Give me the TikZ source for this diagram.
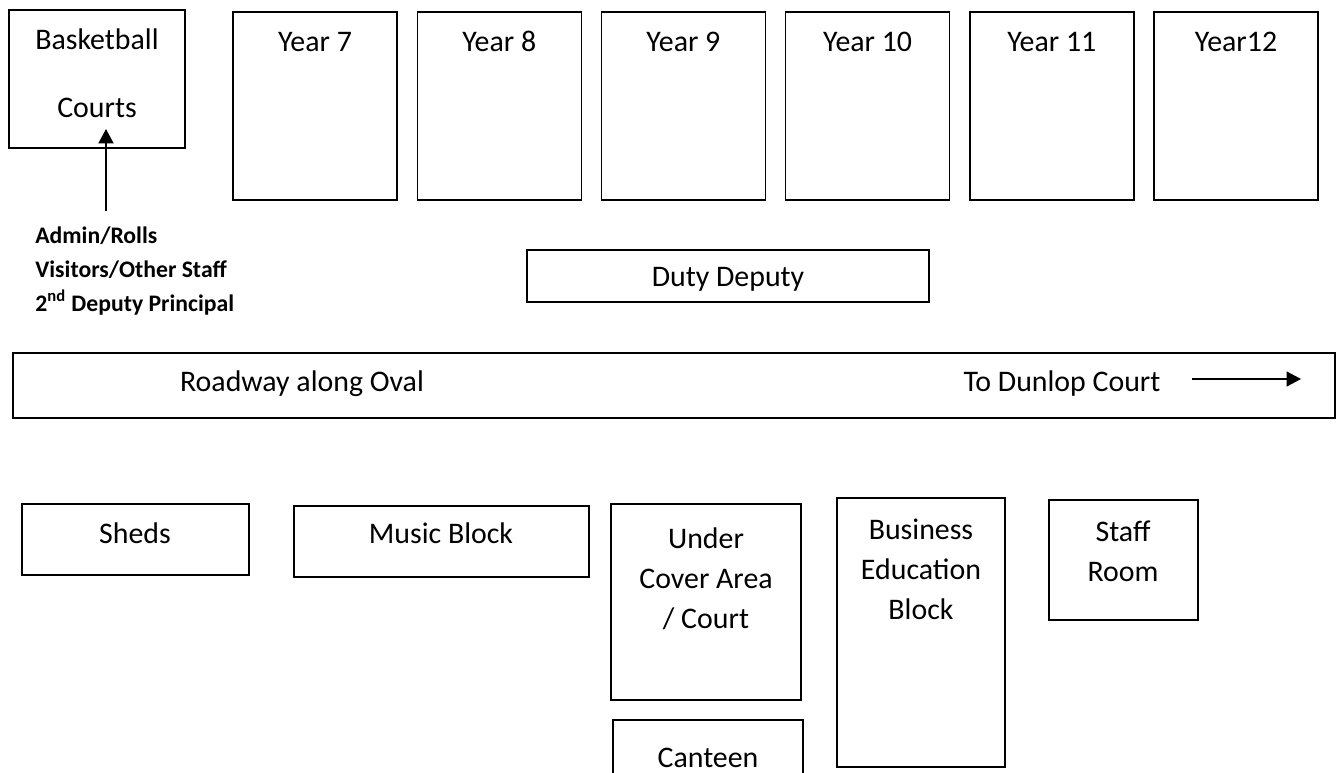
\documentclass[tikz,border=0pt]{standalone}
\usepackage{fontspec}
\setmainfont{Carlito}
\usetikzlibrary{arrows.meta}

\tikzset{
  bldg/.style={draw, line width=0.8pt},
  lbl/.style={font=\fontsize{17}{22.8}\selectfont, align=center, inner sep=0pt},
  one/.style={lbl, anchor=base},
}

\begin{document}
\begin{tikzpicture}[x=0.02cm, y=-0.02cm, >={Triangle[length=0.29cm, width=0.3cm]}]
  \useasboundingbox (0,0) rectangle (1340,773);

  % courts and year blocks
  \draw[bldg] (9,10) rectangle (185,148);
  \node[lbl, font=\fontsize{17}{38.7}\selectfont] (courts) at (97,73.5) {Basketball\\Courts};
  \foreach \i/\txt in {0/Year 7, 1/Year 8, 2/Year 9, 3/Year 10, 4/Year 11, 5/Year12} {
    \draw[bldg] ({233+184.2*\i},12) rectangle ({397+184.2*\i},200);
    \node[one] (yr\i) at ({315+184.2*\i},51.5) {\txt};
  }

  % entry point
  \node[font=\fontsize{13.5}{19.1}\selectfont\bfseries, align=left, inner sep=0pt, anchor=west]
    (entry) at (35,271) {Admin/Rolls\\Visitors/Other Staff\\2\textsuperscript{nd} Deputy Principal};
  \coordinate (walkFrom) at (106,211);
  \coordinate (walkTo) at (106,129);
  \draw[->, line width=1.2pt] (walkFrom) -- (walkTo);

  \draw[bldg] (527,250) rectangle (929,302);
  \node[one] (duty) at (728,286.5) {Duty Deputy};

  % roadway
  \draw[bldg] (13,353) rectangle (1335,418);
  \node[one] (road) at (302,392) {Roadway along Oval};
  \node[one] (dunlop) at (1062,392) {To Dunlop Court};
  \coordinate (dunlopFrom) at (1192,379);
  \coordinate (dunlopTo) at (1301,379);
  \draw[->, line width=1pt] (dunlopFrom) -- (dunlopTo);

  % lower blocks
  \draw[bldg] (22,504) rectangle (249,575);
  \node[one] (sheds) at (135,544) {Sheds};
  \draw[bldg] (294,506) rectangle (589,577);
  \node[one] (music) at (441,544) {Music Block};
  \draw[bldg] (611,504) rectangle (801,700);
  \node[lbl] (cover) at (706,579) {Under\\Cover Area\\/ Court};
  \draw[bldg] (613,780) |- (803,720) -- (803,780);
  \node[one] (canteen) at (708,767) {Canteen};
  \draw[bldg] (837,498) rectangle (1005,767);
  \node[lbl] (business) at (921,569) {Business\\Education\\Block};
  \draw[bldg] (1049,500) rectangle (1198,620);
  \node[lbl] (staff) at (1123,551) {Staff\\Room};
\end{tikzpicture}
\end{document}
